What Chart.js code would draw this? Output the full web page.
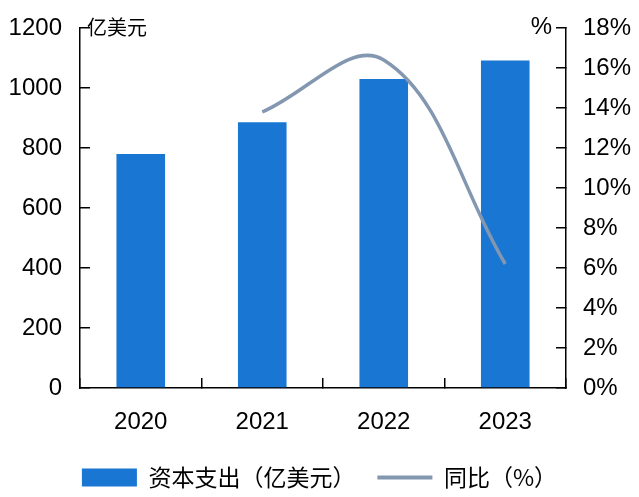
<!DOCTYPE html>
<html>
<head>
<meta charset="utf-8">
<script src="https://cdn.jsdelivr.net/npm/chart.js@4/dist/chart.umd.min.js"></script>
<style>
  html, body { margin: 0; padding: 0; background: #fff; }
  #wrap { width: 639px; height: 497px; }
</style>
</head>
<body>
<div id="wrap"><canvas id="c" width="639" height="497"></canvas></div>
<script>
const categories = ['2020', '2021', '2022', '2023'];
const capexValues = [780, 886, 1030, 1092];          // 亿美元
const yoyValues = [null, 13.8, 16.4, 6.2];            // %
const leftTicks = [0, 200, 400, 600, 800, 1000, 1200];
const rightTicks = [0, 2, 4, 6, 8, 10, 12, 14, 16, 18];
const barLabel = '资本支出（亿美元）';
const lineLabel = '同比（%）';
const leftUnit = '亿美元';
const rightUnit = '%';

const BAR_COLOR = '#1976D2';
const LINE_COLOR = '#8497B0';
const TICK_FONT = { family: 'Liberation Sans, Arial, sans-serif', size: 24 };
const CJK_FAMILY = '"Noto Sans CJK SC", sans-serif';

Chart.defaults.color = '#000';

const unitPlugin = {
  id: 'units',
  afterDraw(chart) {
    const ctx = chart.ctx;
    const area = chart.chartArea;
    ctx.save();
    ctx.fillStyle = '#000';
    ctx.textBaseline = 'middle';
    ctx.font = '20px ' + CJK_FAMILY;
    ctx.textAlign = 'left';
    ctx.fillText(leftUnit, area.left + 7, area.top - 1);
    ctx.font = '24px Liberation Sans, Arial, sans-serif';
    ctx.textAlign = 'right';
    ctx.fillText(rightUnit, area.right - 14, area.top - 1);
    ctx.restore();
  }
};

new Chart(document.getElementById('c'), {
  data: {
    labels: categories,
    datasets: [
      {
        type: 'bar',
        label: barLabel,
        data: capexValues,
        backgroundColor: BAR_COLOR,
        borderWidth: 0,
        barPercentage: 0.4,
        categoryPercentage: 1.0,
        yAxisID: 'y',
        order: 2
      },
      {
        type: 'line',
        label: lineLabel,
        data: yoyValues,
        borderColor: LINE_COLOR,
        backgroundColor: LINE_COLOR,
        borderWidth: 3.5,
        pointRadius: 0,
        tension: 0.38,
        yAxisID: 'y1',
        order: 1
      }
    ]
  },
  options: {
    responsive: false,
    animation: false,
    layout: { padding: { top: 28, left: 0, right: 0, bottom: -2 } },
    scales: {
      x: {
        offset: true,
        grid: { display: true, drawOnChartArea: false, drawTicks: true, tickLength: -10, color: '#000', lineWidth: 1.5, offset: true },
        border: { display: true, color: '#000', width: 1.5 },
        ticks: { font: TICK_FONT, padding: 30, color: '#000', maxRotation: 0 },
        afterFit(s) { s.height = 56; }
      },
      y: {
        position: 'left',
        min: 0, max: 1200,
        afterBuildTicks(s) { s.ticks = leftTicks.map(v => ({ value: v })); },
        grid: { display: true, drawOnChartArea: false, drawTicks: true, tickLength: -10, color: '#000', lineWidth: 1.5 },
        border: { display: true, color: '#000', width: 1.5 },
        ticks: { font: TICK_FONT, padding: 28, color: '#000', callback: v => String(v) },
        afterFit(s) { s.width = 80; s.paddingTop = 0; s.paddingBottom = 0; }
      },
      y1: {
        position: 'right',
        min: 0, max: 18,
        afterBuildTicks(s) { s.ticks = rightTicks.map(v => ({ value: v })); },
        grid: { display: true, drawOnChartArea: false, drawTicks: true, tickLength: -10, color: '#000', lineWidth: 1.5 },
        border: { display: true, color: '#000', width: 1.5 },
        ticks: { font: TICK_FONT, padding: 27, color: '#000', callback: v => v + '%' },
        afterFit(s) { s.width = 73; s.paddingTop = 0; s.paddingBottom = 0; }
      }
    },
    plugins: {
      tooltip: { enabled: false },
      legend: {
        position: 'bottom',
        labels: {
          usePointStyle: true,
          pointStyleWidth: 55,
          boxHeight: 18,
          padding: 22,
          color: '#000',
          font: { family: CJK_FAMILY, size: 23 },
          sort: (a, b) => a.datasetIndex - b.datasetIndex,
          generateLabels(chart) {
            const items = Chart.defaults.plugins.legend.labels.generateLabels(chart);
            items.forEach(it => {
              if (it.datasetIndex === 0) {
                it.pointStyle = 'rect';
                it.fillStyle = BAR_COLOR;
                it.strokeStyle = BAR_COLOR;
                it.lineWidth = 0;
              } else {
                it.pointStyle = 'line';
                it.strokeStyle = LINE_COLOR;
                it.fillStyle = LINE_COLOR;
                it.lineWidth = 4;
              }
            });
            return items;
          }
        }
      }
    }
  },
  plugins: [unitPlugin]
});
</script>
</body>
</html>
